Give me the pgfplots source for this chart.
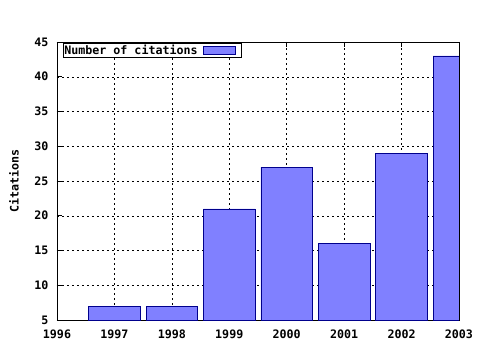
\documentclass[border=0pt]{standalone}
\usepackage{fontspec}
\setmainfont{DejaVu Sans Mono}
\usepackage{pgfplots}
\pgfplotsset{compat=1.18}
\definecolor{barfill}{RGB}{128,128,255}
\definecolor{baredge}{RGB}{0,0,140}
\begin{document}
\begin{tikzpicture}
\useasboundingbox (-57bp,-30bp) rectangle (423bp,320bp);
\begin{axis}[
  scale only axis, width=402bp, height=278bp,
  at={(0,0)}, anchor=south west,
  xmin=1996, xmax=2003, ymin=5, ymax=45,
  xtick={1996,...,2003}, ytick={5,10,...,45},
  minor x tick num=3,
  grid=major,
  major grid style={black, line width=0.5pt, dash pattern=on 2bp off 3bp},
  tick align=inside, major tick length=5bp, minor tick length=3bp,
  axis line style={line width=0.8pt},
  tick style={black, line width=0.6pt},
  ticklabel style={font=\fontsize{11.7}{12}\selectfont\bfseries},
  xticklabel style={yshift=-6bp},
  yticklabel style={xshift=-5bp},
  /pgf/number format/1000 sep={},
  /pgf/number format/assume math mode=true,
  ylabel={Citations},
  every axis y label/.style={at={(axis description cs:0,0.5)}, xshift=-43bp, rotate=90, anchor=center, font=\fontsize{11.7}{12}\selectfont\bfseries},
  legend plot pos=right,
  legend style={at={(axis description cs:0.015,0.995)}, anchor=north west, draw=black, line width=0.6pt, inner xsep=0pt, inner ysep=0.5bp, font=\fontsize{11.7}{12}\selectfont\bfseries, column sep=4bp, nodes={inner xsep=1bp, inner ysep=1bp}},
]
\addplot[ybar, bar width=0.9, bar shift=0pt, fill=barfill, draw=baredge, line width=0.6pt,
  legend image code/.code={\draw[fill=barfill, draw=baredge, line width=0.6pt] (0bp,-4bp) rectangle (32bp,4bp); \path (38bp,0bp);}]
  coordinates {(1997,7) (1998,7) (1999,21) (2000,27) (2001,16) (2002,29) (2003,43)};
\addlegendentry{Number of citations}
\end{axis}
\end{tikzpicture}
\end{document}
